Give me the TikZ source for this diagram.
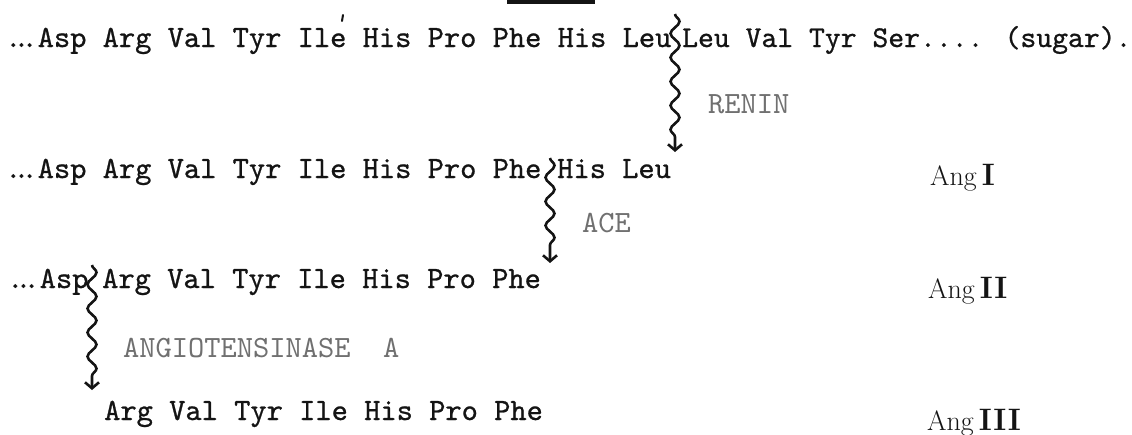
\documentclass[tikz,border=0pt]{standalone}
\usepackage{fontspec}
\usepackage{tikz}
\usetikzlibrary{arrows.meta,decorations.pathmorphing}
\newfontfamily\typer{lmmono10-regular.otf}[FakeBold=0.8]
\newfontfamily\typelt{lmmono10-regular.otf}
\definecolor{ink}{HTML}{141414}
\definecolor{faded}{HTML}{707070}
\newcommand\tydots{.\kern-.2625em.\kern-.2625em.}

\begin{document}
\begin{tikzpicture}[x=1pt,y=-1pt,
  seq/.style={anchor=base west,inner sep=0pt,text=ink,
    font=\fontsize{30.95}{36}\selectfont\typer},
  enz/.style={anchor=base west,inner sep=0pt,text=faded,
    font=\fontsize{30.95}{36}\selectfont\typelt},
  ang/.style={anchor=base west,inner sep=0pt,text=ink,
    font=\fontsize{28}{32}\selectfont\rmfamily},
  squiggle/.style={draw=ink,line width=2.6pt,decorate,
    decoration={snake,amplitude=4.5pt,segment length=24pt,post length=9pt},
    -{Straight Barb[length=6pt,width=14pt]}}]
\useasboundingbox (0,0) rectangle (1132,434);
% scan marks
\fill[ink] (507,0) rectangle (595,3.5);
\draw[ink,line width=2pt,line cap=round] (343,15)--(342,21);

% line 1
\node[seq] (pre1) at (5,47) {\tydots Asp Arg Val Tyr Ile His Pro Phe His Leu};
\node[seq,font=\fontsize{30.2}{36}\selectfont\typer] (post1) at (682,47) {Leu Val Tyr Ser.... (sugar).};
% line 2
\node[seq] (pre2) at (5,178) {\tydots Asp Arg Val Tyr Ile His Pro Phe};
\node[seq] (post2) at (557,178) {His Leu};
% line 3
\node[seq] (pre3) at (7,288) {\tydots Asp};
\node[seq] (post3) at (102,288) {Arg Val Tyr Ile His Pro Phe};
% line 4
\node[seq] (seq4) at (104,420) {Arg Val Tyr Ile His Pro Phe};

% enzymes
\node[enz] (renin) at (708,113) {RENIN};
\node[enz] (ace) at (582,232) {ACE};
\node[enz] (angase) at (123,357) {ANGIOTENSINASE\ \ A};

% products
\node[ang] (angI) at (930,185) {Ang{\bfseries\fontsize{31}{32}\selectfont\,I}};
\node[ang] (angII) at (928,298) {Ang{\bfseries\fontsize{31}{32}\selectfont\,I\kern1.5pt I}};
\node[ang] (angIII) at (927,430) {Ang{\bfseries\fontsize{31}{32}\selectfont\,I\kern1.5pt I\kern1.5pt I}};

% cleavage arrows
\coordinate (cut1) at (675,14);
\coordinate (tip1) at (675,152);
\coordinate (cut2) at (550,158);
\coordinate (tip2) at (550,263);
\coordinate (cut3) at (92,265);
\coordinate (tip3) at (92,390);
\draw[squiggle] (cut1)--(tip1);
\draw[squiggle] (cut2)--(tip2);
\draw[squiggle] (cut3)--(tip3);
\end{tikzpicture}
\end{document}
